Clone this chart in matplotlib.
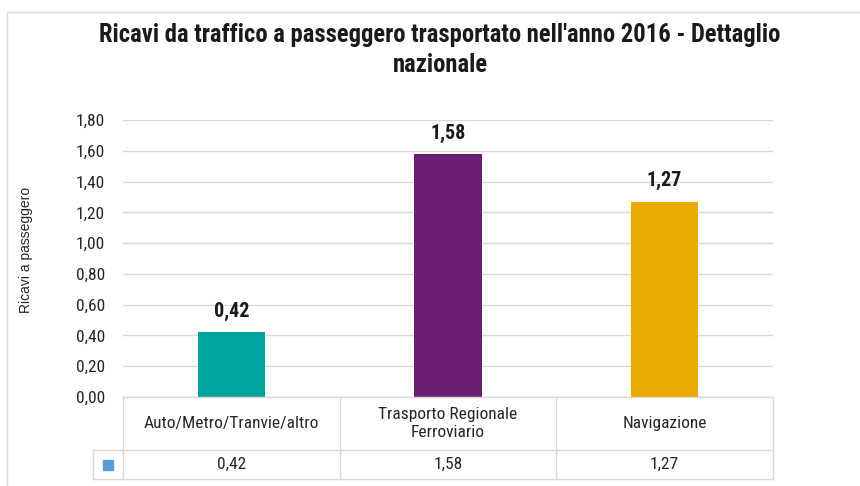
import matplotlib
matplotlib.use("Agg")
import matplotlib.pyplot as plt
from matplotlib.lines import Line2D

categories = ["Auto/Metro/Tranvie/altro", "Trasporto Regionale\nFerroviario", "Navigazione"]
values = [0.42, 1.58, 1.27]
value_labels = ["0,42", "1,58", "1,27"]
bar_colors = ["#00A49F", "#6B1F74", "#EAAB00"]
yticks = [0.0, 0.2, 0.4, 0.6, 0.8, 1.0, 1.2, 1.4, 1.6, 1.8]
ytick_labels = ["0,00", "0,20", "0,40", "0,60", "0,80", "1,00", "1,20", "1,40", "1,60", "1,80"]
title = "Ricavi da traffico a passeggero trasportato nell'anno 2016 - Dettaglio\nnazionale"
ylabel = "Ricavi a passeggero"

plt.rcParams["font.family"] = ["Roboto Condensed", "DejaVu Sans"]

W, H = 860, 486
fig = plt.figure(figsize=(W / 100, H / 100), dpi=100)

def fx(px):
    return px / W

def fy(py):
    return 1 - py / H

# chart area border
fig.add_artist(Line2D([fx(7), fx(7)], [fy(12), 0], color="#D9D9D9", lw=1, transform=fig.transFigure))
fig.add_artist(Line2D([fx(7), 1], [fy(12), fy(12)], color="#D9D9D9", lw=1, transform=fig.transFigure))

left, right, top, bottom = 123, 773, 120, 397
ax = fig.add_axes([fx(left), fy(bottom), fx(right - left), (bottom - top) / H])
x = list(range(len(categories)))
ax.bar(x, values, width=0.31, color=bar_colors, zorder=3)
ax.set_xlim(-0.5, len(categories) - 0.5)
ax.set_ylim(0, 1.8)
ax.set_yticks(yticks)
ax.set_yticklabels(ytick_labels, fontsize=12.5, color="#262626")
ax.set_xticks([])
ax.tick_params(axis="y", length=0, pad=13)
ax.grid(axis="y", color="#D9D9D9", lw=1, zorder=0)
for s in ax.spines.values():
    s.set_visible(False)
for xi, v, lab in zip(x, values, value_labels):
    ax.annotate(lab, (xi, v), xytext=(0, 8), textcoords="offset points",
                ha="center", va="bottom", fontsize=14.5, fontweight="bold", color="#1a1a1a")

fig.text(fx(26), fy(250), ylabel, rotation=90, ha="center", va="center", fontsize=10,
         family=["Liberation Sans", "DejaVu Sans"], color="#262626")
fig.text(fx(440), fy(50), title, ha="center", va="center", fontsize=17.7, fontweight="bold",
         color="#1a1a1a", linespacing=1.35)

# data table
tb_top, tb_mid, tb_bot = 397, 450, 479
tax = fig.add_axes([fx(left), fy(tb_bot), fx(right - left), (tb_bot - tb_top) / H])
tax.set_xlim(ax.get_xlim())
tax.set_ylim(0, tb_bot - tb_top)
tax.axis("off")
gc = "#D9D9D9"
ymid = tb_bot - tb_mid
ytop = tb_bot - tb_top
key_left = -0.5 - (left - 93) / ((right - left) / len(categories))
for b in [i - 0.5 for i in range(len(categories) + 1)]:
    tax.plot([b, b], [0, ytop], color=gc, lw=1, clip_on=False)
tax.plot([-0.5, 2.5], [ytop, ytop], color=gc, lw=1, clip_on=False)
tax.plot([key_left, 2.5], [ymid, ymid], color=gc, lw=1, clip_on=False)
tax.plot([key_left, 2.5], [0, 0], color=gc, lw=1, clip_on=False)
tax.plot([key_left, key_left], [0, ymid], color=gc, lw=1, clip_on=False)
for xi, cat, lab in zip(x, categories, value_labels):
    tax.text(xi, (ymid + ytop) / 2, cat, ha="center", va="center", fontsize=12.5, color="#262626",
             linespacing=1.2)
    tax.text(xi, ymid / 2, lab, ha="center", va="center", fontsize=12.5, color="#262626")
tax.plot([(key_left - 0.5) / 2], [ymid / 2], marker="s", ms=7, color="#5B9BD5", clip_on=False)

fig.savefig("out.png", dpi=100)
